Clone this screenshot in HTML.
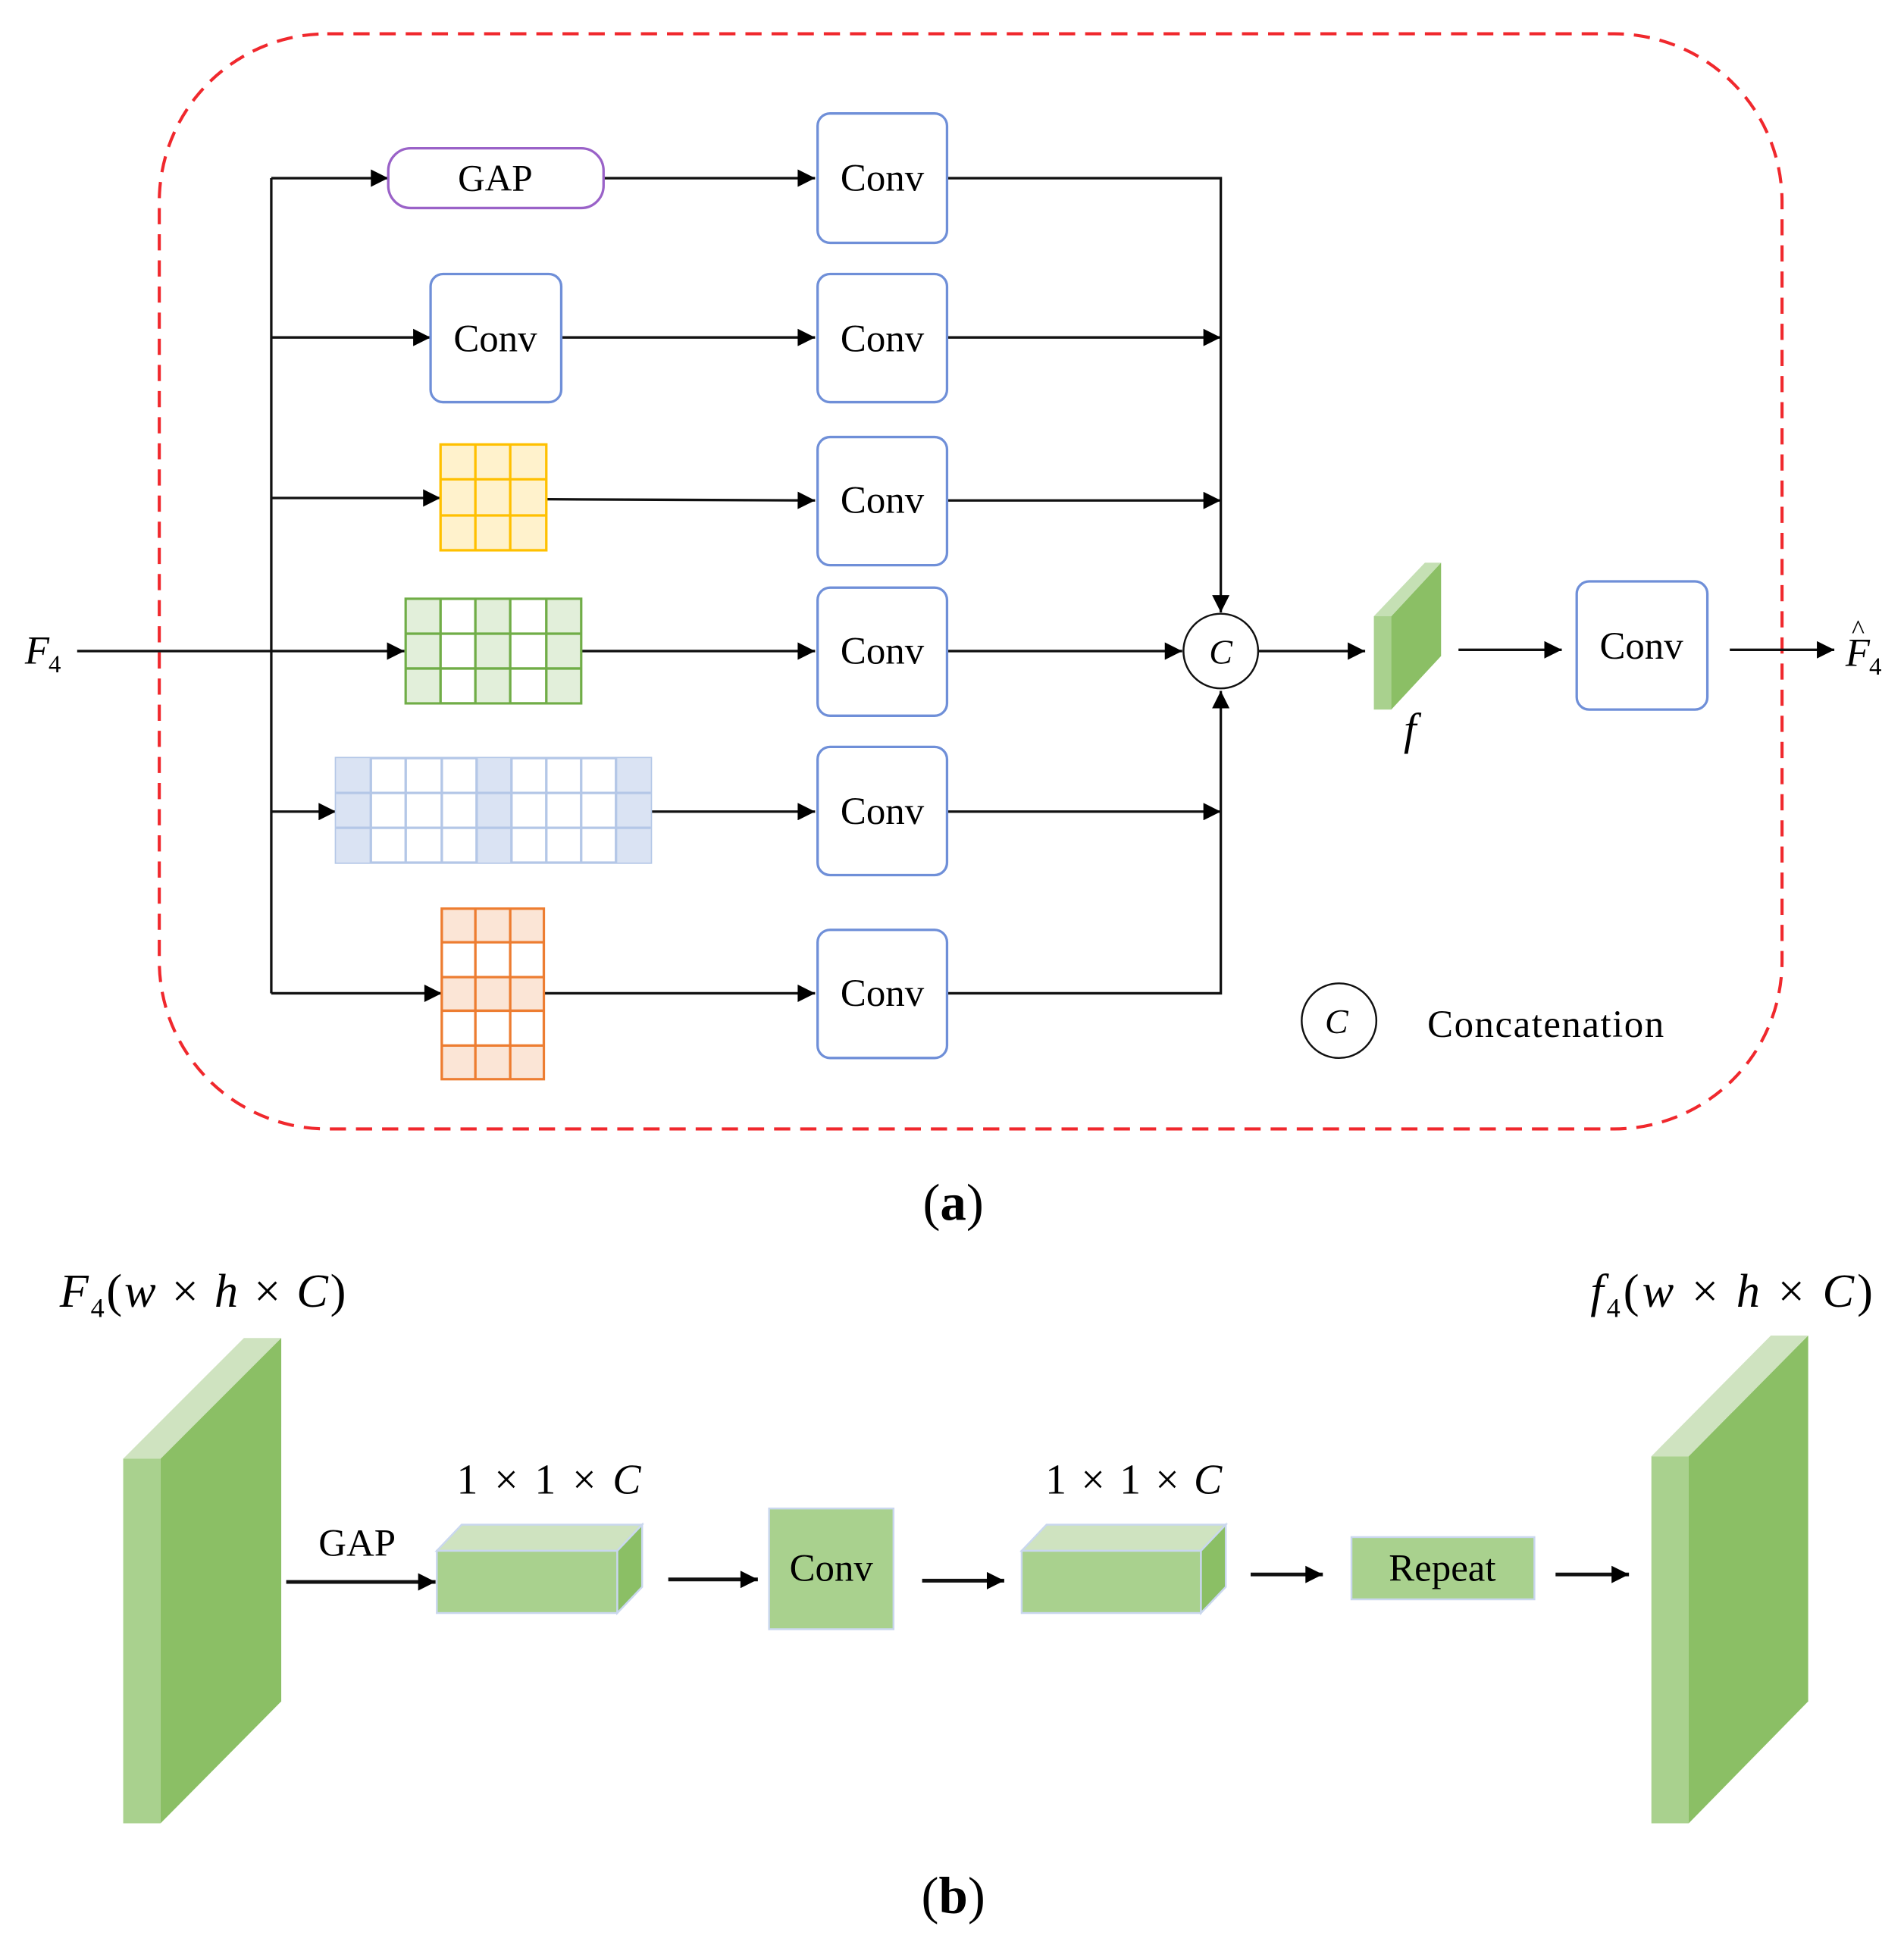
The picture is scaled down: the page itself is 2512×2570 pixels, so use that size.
<!DOCTYPE html>
<html><head><meta charset="utf-8"><style>
html,body{margin:0;padding:0;background:#fff}
svg{display:block}
text{font-family:"Liberation Serif",serif;fill:#000}
</style></head><body>
<svg width="2512" height="2570" viewBox="0 0 1530 1565" xmlns="http://www.w3.org/2000/svg">
<defs>
<marker id="b" viewBox="0 0 10 10" refX="10" refY="5" markerWidth="15" markerHeight="14" markerUnits="userSpaceOnUse" orient="auto"><path d="M0,0 L10,5 L0,10 z" fill="#000"/></marker>
</defs>
<rect x="128" y="27" width="1304" height="880" rx="135" fill="none" stroke="#f0282d" stroke-width="2.5" stroke-dasharray="13,8"/>
<g stroke="#111" stroke-width="2" fill="none">
<line x1="218" y1="143" x2="218" y2="798"/>
<line x1="62" y1="523" x2="325" y2="523" marker-end="url(#b)"/>
<line x1="218" y1="143" x2="312" y2="143" marker-end="url(#b)"/>
<line x1="485" y1="143" x2="655" y2="143" marker-end="url(#b)"/>
<polyline points="761,143 981,143 981,492" marker-end="url(#b)"/>
<line x1="218" y1="271" x2="346" y2="271" marker-end="url(#b)"/>
<line x1="451" y1="271" x2="655" y2="271" marker-end="url(#b)"/>
<line x1="761" y1="271" x2="981" y2="271" marker-end="url(#b)"/>
<line x1="218" y1="400" x2="354" y2="400" marker-end="url(#b)"/>
<line x1="439" y1="401" x2="655" y2="402" marker-end="url(#b)"/>
<line x1="761" y1="402" x2="981" y2="402" marker-end="url(#b)"/>
<line x1="467" y1="523" x2="655" y2="523" marker-end="url(#b)"/>
<line x1="761" y1="523" x2="950" y2="523" marker-end="url(#b)"/>
<line x1="218" y1="652" x2="270" y2="652" marker-end="url(#b)"/>
<line x1="523" y1="652" x2="655" y2="652" marker-end="url(#b)"/>
<line x1="761" y1="652" x2="981" y2="652" marker-end="url(#b)"/>
<line x1="218" y1="798" x2="355" y2="798" marker-end="url(#b)"/>
<line x1="437" y1="798" x2="655" y2="798" marker-end="url(#b)"/>
<polyline points="761,798 981,798 981,555" marker-end="url(#b)"/>
<line x1="1011" y1="523" x2="1097" y2="523" marker-end="url(#b)"/>
<line x1="1172" y1="522" x2="1255" y2="522" marker-end="url(#b)"/>
<line x1="1390" y1="522" x2="1474" y2="522" marker-end="url(#b)"/>
</g>
<rect x="312" y="119" width="173" height="48" rx="18" fill="#fff" stroke="#9a62c8" stroke-width="2"/>
<text x="398" y="153" font-size="30" text-anchor="middle">GAP</text>
<g fill="#fff" stroke="#6f8fd8" stroke-width="2">
<rect x="657" y="91" width="104" height="104" rx="10"/>
<rect x="346" y="220" width="105" height="103" rx="10"/>
<rect x="657" y="220" width="104" height="103" rx="10"/>
<rect x="657" y="351" width="104" height="103" rx="10"/>
<rect x="657" y="472" width="104" height="103" rx="10"/>
<rect x="657" y="600" width="104" height="103" rx="10"/>
<rect x="657" y="747" width="104" height="103" rx="10"/>
<rect x="1267" y="467" width="105" height="103" rx="10"/>
</g>
<g font-size="31" text-anchor="middle">
<text x="709" y="153">Conv</text><text x="398" y="282">Conv</text><text x="709" y="282">Conv</text>
<text x="709" y="412">Conv</text><text x="709" y="533">Conv</text><text x="709" y="662">Conv</text>
<text x="709" y="808">Conv</text><text x="1319" y="529">Conv</text>
</g>
<rect x="354" y="357" width="85" height="85" fill="#fff2cc" stroke="#ffc000" stroke-width="2"/>
<path d="M382,357V442M410,357V442M354,385H439M354,414H439" stroke="#ffc000" stroke-width="2"/>
<rect x="326" y="481" width="141" height="84" fill="#fff" stroke="#70ad47" stroke-width="2"/>
<g fill="#e2efda"><rect x="327" y="482" width="27" height="82"/><rect x="383" y="482" width="27" height="82"/><rect x="439" y="482" width="27" height="82"/></g>
<path d="M354,481V565M382,481V565M410,481V565M439,481V565M326,509H467M326,537H467" stroke="#70ad47" stroke-width="2"/>
<rect x="270" y="609" width="253" height="84" fill="#fff" stroke="#b4c7e7" stroke-width="2"/>
<g fill="#dae3f3"><rect x="270" y="609" width="28" height="84"/><rect x="383" y="609" width="28" height="84"/><rect x="495" y="609" width="28" height="84"/></g>
<path d="M298,609V693M326,609V693M355,609V693M383,609V693M411,609V693M439,609V693M467,609V693M495,609V693M270,637H523M270,665H523" stroke="#b4c7e7" stroke-width="2"/>
<rect x="355" y="730" width="82" height="137" fill="#fff" stroke="#ed7d31" stroke-width="2"/>
<g fill="#fbe5d6"><rect x="356" y="731" width="80" height="26"/><rect x="356" y="786" width="80" height="26"/><rect x="356" y="840" width="80" height="26"/></g>
<path d="M382,730V867M410,730V867M355,757H437M355,785H437M355,812H437M355,840H437" stroke="#ed7d31" stroke-width="2"/>
<circle cx="981" cy="523" r="30" fill="#fff" stroke="#111" stroke-width="1.5"/>
<text x="981" y="533" font-size="28" font-style="italic" text-anchor="middle">C</text>
<polygon points="1104,495 1118,495 1118,570 1104,570" fill="#a9d18e"/>
<polygon points="1118,495 1158,452 1158,527 1118,570" fill="#8bbf65"/>
<polygon points="1104,495 1145,452 1158,452 1118,495" fill="#c5e0b4"/>
<text x="1133" y="598" font-size="36" font-style="italic" text-anchor="middle">f</text>
<text x="20" y="533" font-size="32" font-style="italic">F</text><text x="39" y="540" font-size="20">4</text>
<text x="1483" y="535" font-size="32" font-style="italic">F</text><text x="1502" y="542" font-size="20">4</text><text x="1488" y="513" font-size="22">^</text>
<circle cx="1076" cy="820" r="30" fill="#fff" stroke="#111" stroke-width="1.5"/>
<text x="1074" y="830" font-size="28" font-style="italic" text-anchor="middle">C</text>
<text x="1147" y="833" font-size="31" textLength="190">Concatenation</text>
<text x="766" y="980" font-size="42" text-anchor="middle">(<tspan font-weight="bold">a</tspan>)</text>
<text x="48" y="1050" font-size="38" font-style="italic" textLength="230">F<tspan font-size="22" font-style="normal" dy="8">4</tspan><tspan dy="-8" font-style="normal">(</tspan>w <tspan font-style="normal">×</tspan> h <tspan font-style="normal">×</tspan> C<tspan font-style="normal">)</tspan></text>
<text x="1278" y="1050" font-size="38" font-style="italic" textLength="227">f<tspan font-size="22" font-style="normal" dy="8">4</tspan><tspan dy="-8" font-style="normal">(</tspan>w <tspan font-style="normal">×</tspan> h <tspan font-style="normal">×</tspan> C<tspan font-style="normal">)</tspan></text>
<polygon points="99,1172 129,1172 129,1465 99,1465" fill="#a9d18e"/>
<polygon points="129,1172 226,1075 226,1367 129,1465" fill="#8bbf65"/>
<polygon points="99,1172 196,1075 226,1075 129,1172" fill="#cfe3c0"/>
<polygon points="1327,1170 1357,1170 1357,1465 1327,1465" fill="#a9d18e"/>
<polygon points="1357,1170 1453,1073 1453,1367 1357,1465" fill="#8bbf65"/>
<polygon points="1327,1170 1423,1073 1453,1073 1357,1170" fill="#cfe3c0"/>
<text x="256" y="1250" font-size="31">GAP</text>
<g stroke="#111" stroke-width="3">
<line x1="230" y1="1271" x2="350" y2="1271" marker-end="url(#b)"/>
<line x1="537" y1="1269" x2="609" y2="1269" marker-end="url(#b)"/>
<line x1="741" y1="1270" x2="807" y2="1270" marker-end="url(#b)"/>
<line x1="1005" y1="1265" x2="1063" y2="1265" marker-end="url(#b)"/>
<line x1="1250" y1="1265" x2="1309" y2="1265" marker-end="url(#b)"/>
</g>
<g stroke="#c9d7ee" stroke-width="1.5">
<polygon points="351,1246 371,1225 516,1225 496,1246" fill="#cfe3c0"/>
<polygon points="496,1246 516,1225 516,1275 496,1296" fill="#8bbf65"/>
<rect x="351" y="1246" width="145" height="50" fill="#a9d18e"/>
<polygon points="821,1246 841,1225 985,1225 965,1246" fill="#cfe3c0"/>
<polygon points="965,1246 985,1225 985,1275 965,1296" fill="#8bbf65"/>
<rect x="821" y="1246" width="144" height="50" fill="#a9d18e"/>
<rect x="618" y="1212" width="100" height="97" fill="#a9d18e"/>
<rect x="1086" y="1235" width="147" height="50" fill="#a9d18e"/>
</g>
<text x="668" y="1270" font-size="31" text-anchor="middle">Conv</text>
<text x="1159" y="1270" font-size="31" text-anchor="middle">Repeat</text>
<text x="367" y="1200" font-size="34" textLength="148">1 × 1 × <tspan font-style="italic">C</tspan></text>
<text x="840" y="1200" font-size="34" textLength="142">1 × 1 × <tspan font-style="italic">C</tspan></text>
<text x="766" y="1537" font-size="42" text-anchor="middle">(<tspan font-weight="bold">b</tspan>)</text>
</svg>
</body></html>
